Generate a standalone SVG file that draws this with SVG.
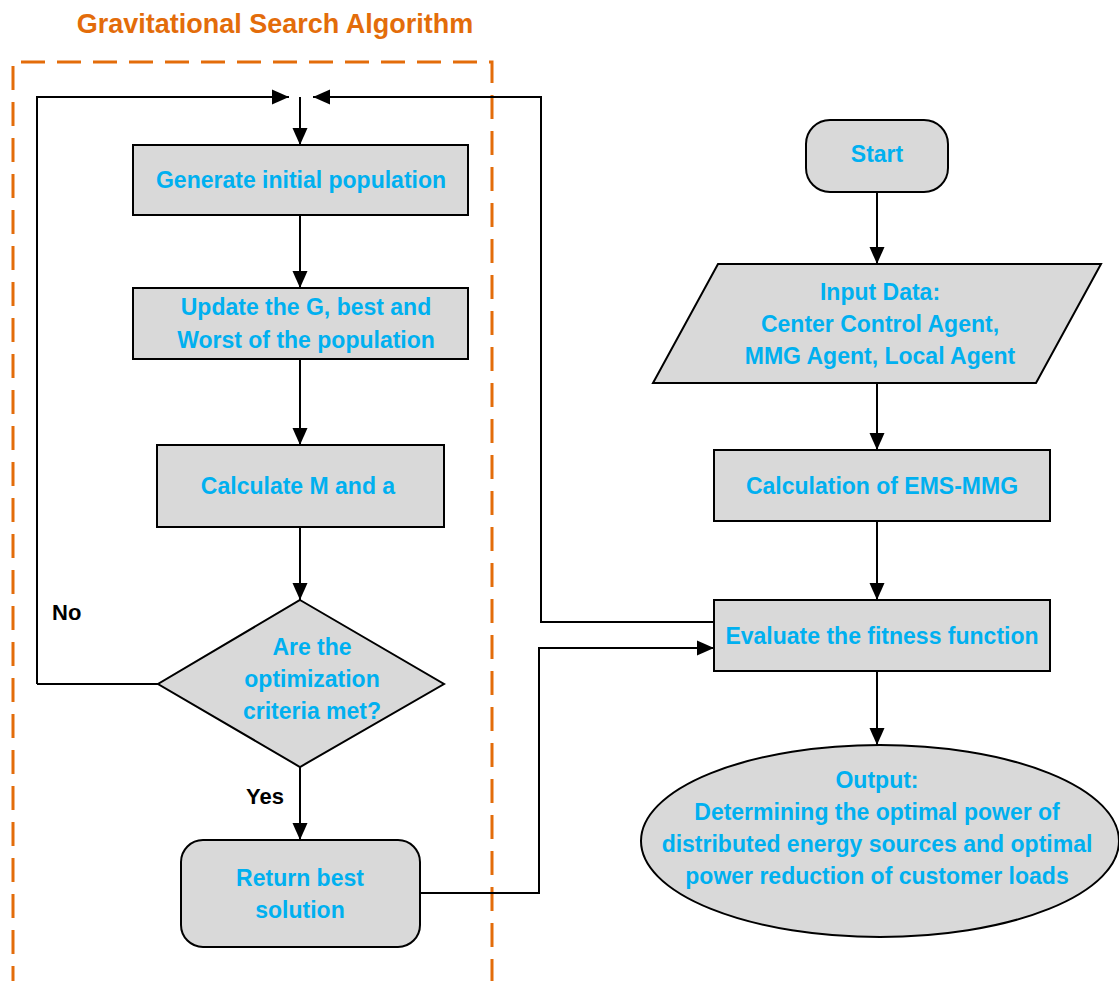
<svg xmlns="http://www.w3.org/2000/svg" width="1119" height="981" viewBox="0 0 1119 981">
<defs>
<marker id="arr" markerUnits="userSpaceOnUse" markerWidth="18" markerHeight="18" viewBox="0 0 18 18" refX="17" refY="9" orient="auto">
<path d="M0,1.5 L17,9 L0,16.5 Z" fill="#000"/>
</marker>
</defs>
<style>
.box{fill:#D9D9D9;stroke:#000;stroke-width:2}
.t{font-family:"Liberation Sans",Arial,sans-serif;font-weight:bold;font-size:23px;fill:#00B0F0;text-anchor:middle}
.lbl{font-family:"Liberation Sans",Arial,sans-serif;font-weight:bold;font-size:22px;fill:#000}
.c{fill:none;stroke:#000;stroke-width:2}
</style>
<rect width="1119" height="981" fill="#fff"/>
<g id="gsa-frame">
<text x="275" y="33" font-family="Liberation Sans,Arial,sans-serif" font-weight="bold" font-size="27" fill="#E36C0A" text-anchor="middle">Gravitational Search Algorithm</text>
<path d="M13,990 L13,62 L492,62 L492,990" fill="none" stroke="#E36C0A" stroke-width="3" stroke-dasharray="24,12"/>
</g>
<g id="connectors">
<path class="c" d="M37,684 L37,97 L289,97" marker-end="url(#arr)"/>
<path class="c" d="M714,622 L541,622 L541,97 L313,97" marker-end="url(#arr)"/>
<path class="c" d="M300,97 L300,145" marker-end="url(#arr)"/>
<path class="c" d="M300,215 L300,288" marker-end="url(#arr)"/>
<path class="c" d="M300,359 L300,445" marker-end="url(#arr)"/>
<path class="c" d="M300,527 L300,600" marker-end="url(#arr)"/>
<path class="c" d="M158,684 L37,684"/>
<path class="c" d="M300,767 L300,840" marker-end="url(#arr)"/>
<path class="c" d="M420,893 L539,893 L539,648 L714,648" marker-end="url(#arr)"/>
<path class="c" d="M877,192 L877,264" marker-end="url(#arr)"/>
<path class="c" d="M877,383 L877,450" marker-end="url(#arr)"/>
<path class="c" d="M877,521 L877,600" marker-end="url(#arr)"/>
<path class="c" d="M877,671 L877,745" marker-end="url(#arr)"/>
<text class="lbl" x="52" y="620">No</text>
<text class="lbl" x="246" y="804">Yes</text>
</g>
<g id="generate">
<rect class="box" x="133" y="145" width="335" height="70"/>
<text class="t" x="301" y="188">Generate initial population</text>
</g>
<g id="update">
<rect class="box" x="133" y="288" width="335" height="71"/>
<text class="t" x="306" y="315">Update the G, best and</text>
<text class="t" x="306" y="348">Worst of the population</text>
</g>
<g id="calcM">
<rect class="box" x="157" y="445" width="287" height="82"/>
<text class="t" x="298" y="494">Calculate M and a</text>
</g>
<g id="decision">
<polygon class="box" points="300,600 444,684 300,767 158,684"/>
<text class="t" x="312" y="655">Are the</text>
<text class="t" x="312" y="687">optimization</text>
<text class="t" x="312" y="719">criteria met?</text>
</g>
<g id="return">
<rect class="box" x="181" y="840" width="239" height="107" rx="22"/>
<text class="t" x="300" y="886">Return best</text>
<text class="t" x="300" y="918">solution</text>
</g>
<g id="start">
<rect class="box" x="806" y="120" width="142" height="72" rx="24"/>
<text class="t" x="877" y="162">Start</text>
</g>
<g id="input">
<polygon class="box" points="718,264 1101,264 1036,383 653,383"/>
<text class="t" x="880" y="300">Input Data:</text>
<text class="t" x="880" y="332">Center Control Agent,</text>
<text class="t" x="880" y="364">MMG Agent, Local Agent</text>
</g>
<g id="ems">
<rect class="box" x="714" y="450" width="336" height="71"/>
<text class="t" x="882" y="494">Calculation of EMS-MMG</text>
</g>
<g id="evaluate">
<rect class="box" x="714" y="600" width="336" height="71"/>
<text class="t" x="882" y="644">Evaluate the fitness function</text>
</g>
<g id="output">
<ellipse class="box" cx="880" cy="841" rx="239" ry="96"/>
<text class="t" x="877" y="788">Output:</text>
<text class="t" x="877" y="820">Determining the optimal power of</text>
<text class="t" x="877" y="852">distributed energy sources and optimal</text>
<text class="t" x="877" y="884">power reduction of customer loads</text>
</g>
</svg>
